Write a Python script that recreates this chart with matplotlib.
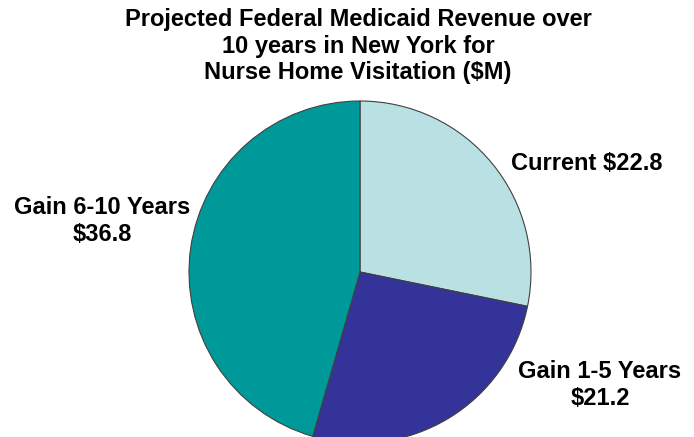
"""Pie chart of projected federal Medicaid revenue for nurse home visitation."""

import matplotlib.pyplot as plt

W, H = 694, 437

labels = ["Current", "Gain 1-5 Years", "Gain 6-10 Years"]
values = [22.8, 21.2, 36.8]
colors = ["#B9E1E4", "#333399", "#009999"]

title = "Projected Federal Medicaid Revenue over\n10 years in New York for\nNurse Home Visitation ($M)"

plt.rcParams["font.family"] = ["Liberation Sans", "DejaVu Sans"]

fig = plt.figure(figsize=(W / 100, H / 100), dpi=100)
ax = fig.add_axes([0, 0, 1, 1])

ax.pie(
    values,
    colors=colors,
    startangle=90,
    counterclock=False,
    center=(360, H - 272),
    radius=171,
    wedgeprops={"edgecolor": "#404040", "linewidth": 0.8},
    frame=True,
)
ax.set_xlim(0, W)
ax.set_ylim(0, H)
ax.set_aspect("equal")
ax.axis("off")

# slice labels, placed like the original
txt = dict(fontsize=17, fontweight="bold", color="black", linespacing=1.22)
ax.text(511, H - 163, f"{labels[0]} ${values[0]}", ha="left", va="center", **txt)
ax.text(600, H - 385, f"{labels[1]}\n${values[1]}", ha="center", va="center", **txt)
ax.text(102, H - 221, f"{labels[2]}\n${values[2]}", ha="center", va="center", **txt)

fig.text(358 / W, 1 - 46 / H, title, ha="center", va="center",
         fontsize=17, fontweight="bold", linespacing=1.2)

fig.savefig("out.png", dpi=100)
